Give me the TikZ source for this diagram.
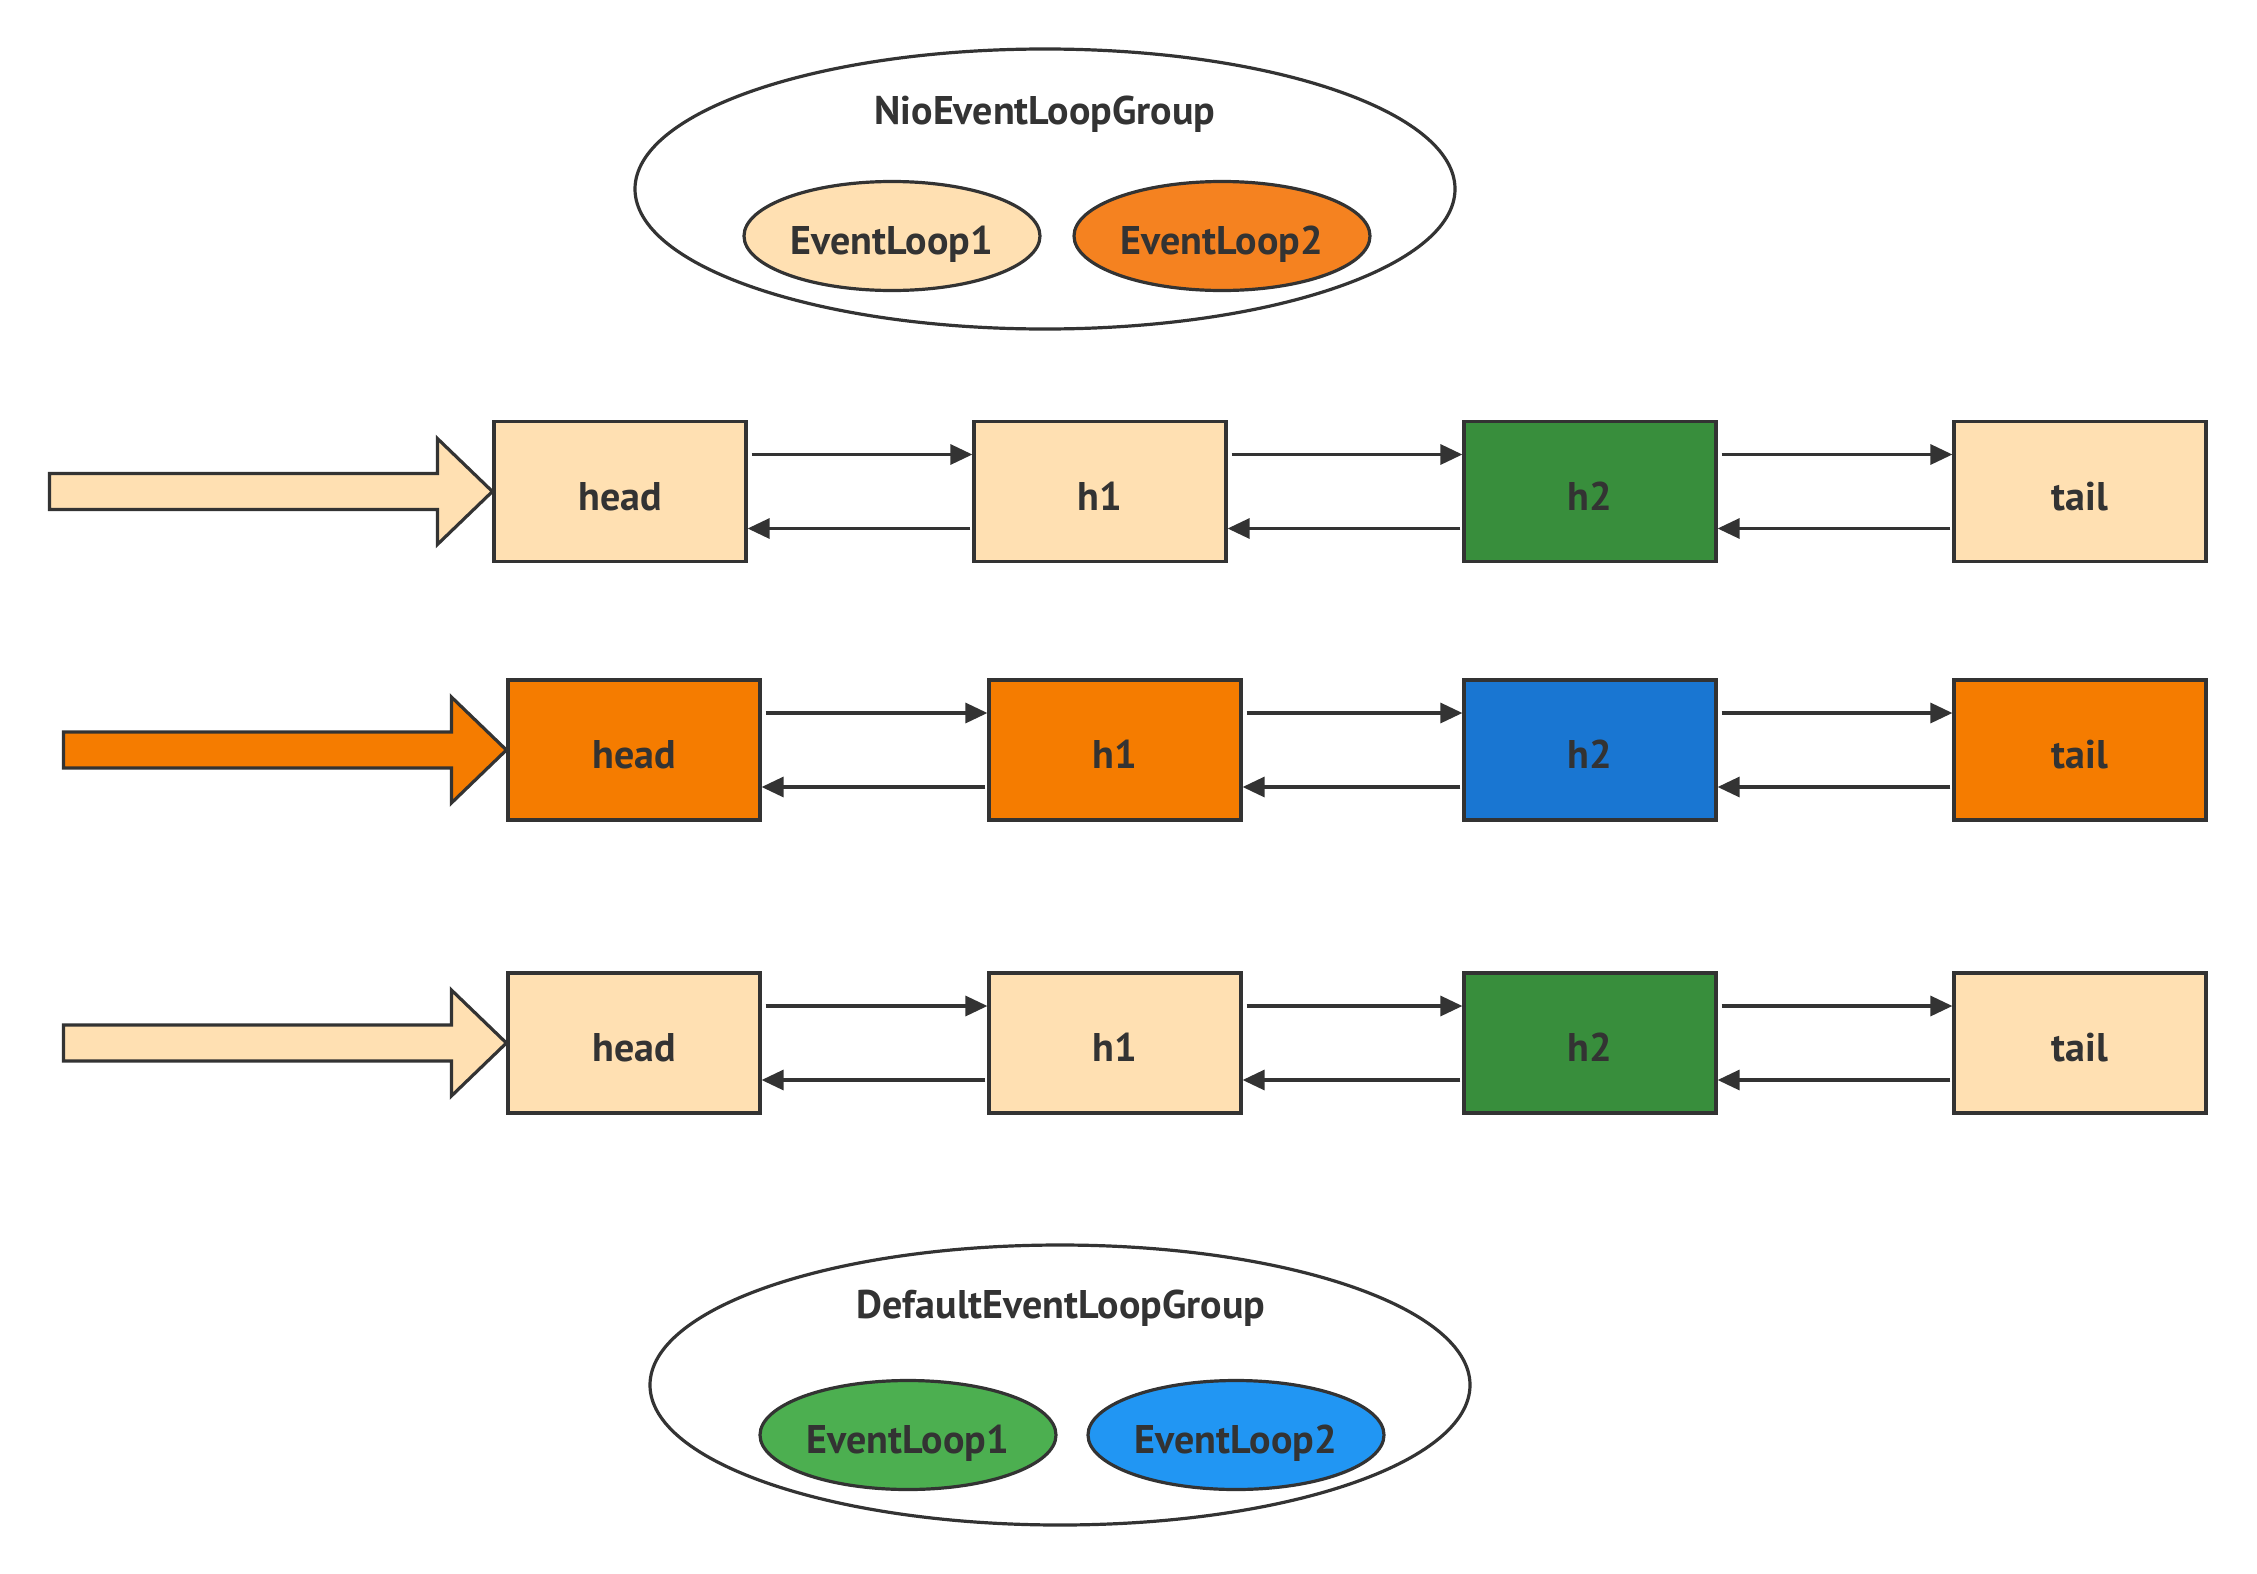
\documentclass[tikz,border=0pt]{standalone}
\usepackage{fontspec}
\setmainfont{PT Sans}
\usetikzlibrary{arrows.meta,shapes.geometric,calc}
\definecolor{ink}{HTML}{333333}
\definecolor{pale}{HTML}{FFE0B2}
\definecolor{deeporange}{HTML}{F57C00}
\definecolor{loopOrange}{HTML}{F58220}
\definecolor{darkgreen}{HTML}{388E3C}
\definecolor{darkblue}{HTML}{1976D2}
\definecolor{loopGreen}{HTML}{4CAF50}
\definecolor{loopBlue}{HTML}{2196F3}
\begin{document}
\begin{tikzpicture}[x=1pt,y=-1pt,
  lbl/.style={font=\bfseries\fontsize{40}{46}\selectfont, text=ink, text height=37pt, text depth=0pt},
  box/.style={lbl, draw=ink, line width=3.2pt, minimum width=252pt, minimum height=140pt, inner sep=0pt},
  loop/.style={lbl, ellipse, draw=ink, line width=3.2pt, minimum width=296pt, minimum height=109pt, inner sep=0pt},
  group/.style={ellipse, draw=ink, line width=3.2pt, minimum width=820pt, minimum height=280pt, inner sep=0pt},
  link/.style={draw=ink, line width=3.2pt, -{Triangle[length=22pt,width=20pt]}},
  feed/.style={draw=ink, line width=3.2pt, line join=miter}
]
\useasboundingbox (0,0) rectangle (2257,1574);

% upper group with its two loops
\node[group] (g1) at (1045,189) {};
\node[lbl] (g1t) at (1045,106) {NioEventLoopGroup};
\node[loop, fill=pale] (g1a) at (892,236) {EventLoop1};
\node[loop, fill=loopOrange] (g1b) at (1222,236) {EventLoop2};

% three pipelines
\node[box, fill=pale] (a1) at (620,491.5) {head};
\node[box, fill=pale] (b1) at (1100,491.5) {h1};
\node[box, fill=darkgreen] (c1) at (1590,491.5) {h2};
\node[box, fill=pale] (d1) at (2080,491.5) {tail};

\node[box, fill=deeporange] (a2) at (634,750) {head};
\node[box, fill=deeporange] (b2) at (1115,750) {h1};
\node[box, fill=darkblue] (c2) at (1590,750) {h2};
\node[box, fill=deeporange] (d2) at (2080,750) {tail};

\node[box, fill=pale] (a3) at (634,1043) {head};
\node[box, fill=pale] (b3) at (1115,1043) {h1};
\node[box, fill=darkgreen] (c3) at (1590,1043) {h2};
\node[box, fill=pale] (d3) at (2080,1043) {tail};

% forward and backward links
\foreach \r in {1,2,3}{
  \foreach \p/\q in {a/b,b/c,c/d}{
    \draw[link] ([xshift=4pt,yshift=37pt]\p\r.east) -- ([yshift=37pt]\q\r.west);
    \draw[link] ([xshift=-2pt,yshift=-37pt]\q\r.west) -- ([yshift=-37pt]\p\r.east);
  }
}

% wide entry arrows
\foreach \r/\c in {1/pale,2/deeporange,3/pale}{
  \draw[feed, fill=\c] (a\r.west) -- ++(-55,-53) -- ++(0,35) -- ++(-388,0)
    -- ++(0,36) -- ++(388,0) -- ++(0,35) -- cycle;
}

% lower group with its two loops
\node[group] (g2) at (1060,1385) {};
\node[lbl] (g2t) at (1061,1300) {DefaultEventLoopGroup};
\node[loop, fill=loopGreen] (g2a) at (908,1435) {EventLoop1};
\node[loop, fill=loopBlue] (g2b) at (1236,1435) {EventLoop2};
\end{tikzpicture}
\end{document}
